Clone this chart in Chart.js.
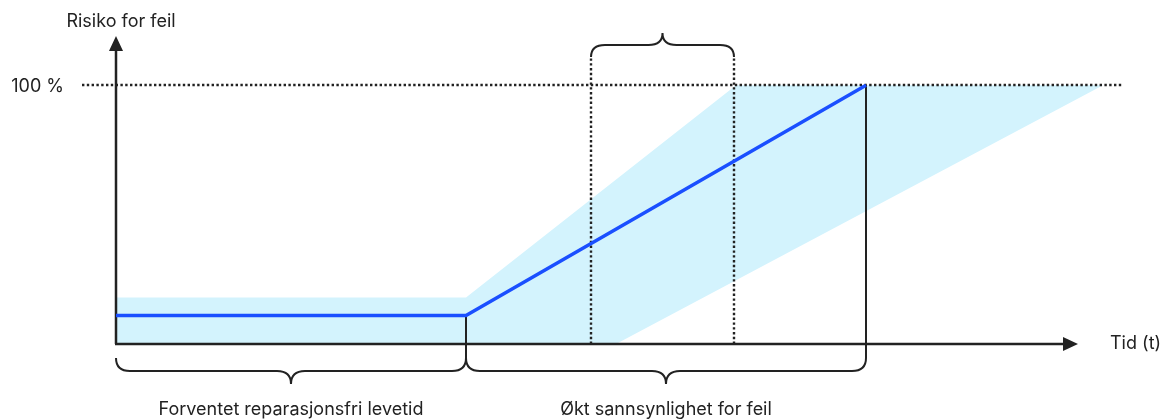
<!DOCTYPE html>
<html>
<head>
<meta charset="utf-8">
<script src="https://cdn.jsdelivr.net/npm/chart.js@4.4.1/dist/chart.umd.min.js"></script>
<style>
  html, body { margin: 0; padding: 0; background: #fff; }
  canvas { display: block; }
</style>
</head>
<body>
<canvas id="chart" width="1165" height="420"></canvas>
<script>
// risk curve: time -> risk (%)
var riskTime = [0, 35, 75];
var riskValue = [11, 11, 100];

// outline of the light blue uncertainty band
var bandTime = [0, 0, 35, 62, 98.7, 50];
var bandValue = [0, 18, 18, 100, 100, 0];

var refLevel = 100;
var refLabel = '100 %';

var phaseBounds = [0, 35, 75];
var phaseLabels = ['Forventet reparasjonsfri levetid', 'Økt sannsynlighet for feil'];
var windowBounds = [47.5, 61.8];

var yTitle = 'Risiko for feil';
var xTitle = 'Tid (t)';

var ink = '#222222';
var font = '18px Inter, "Noto Sans", sans-serif';

function toPoints(xs, ys) {
    return xs.map(function (x, i) { return {x: x, y: ys[i]}; });
}

function brace(ctx, x1, x2, yEnd, dir, h, r) {
    var yMid = yEnd + dir * h, yTip = yEnd + dir * h * 2, xm = (x1 + x2) / 2;
    ctx.beginPath();
    ctx.moveTo(x1, yEnd);
    ctx.quadraticCurveTo(x1, yMid, x1 + r, yMid);
    ctx.lineTo(xm - r, yMid);
    ctx.quadraticCurveTo(xm, yMid, xm, yTip);
    ctx.quadraticCurveTo(xm, yMid, xm + r, yMid);
    ctx.lineTo(x2 - r, yMid);
    ctx.quadraticCurveTo(x2, yMid, x2, yEnd);
    ctx.stroke();
}

var diagram = {
    id: 'diagram',
    beforeDatasetsDraw: function (chart) {
        var ctx = chart.ctx, xs = chart.scales.x, ys = chart.scales.y, a = chart.chartArea;
        var x0 = xs.getPixelForValue(0), y0 = ys.getPixelForValue(0);
        var yr = Math.round(ys.getPixelForValue(refLevel));
        var braceY = y0 + 14;
        ctx.save();
        ctx.strokeStyle = ink;
        ctx.lineWidth = 2.4;
        ctx.setLineDash([2.4, 2.4]);
        ctx.beginPath();
        ctx.moveTo(a.left - 34, yr);
        ctx.lineTo(a.right + 6, yr);
        ctx.stroke();
        windowBounds.forEach(function (t) {
            var px = Math.round(xs.getPixelForValue(t));
            ctx.beginPath();
            ctx.moveTo(px, y0);
            ctx.lineTo(px, a.top + 21);
            ctx.stroke();
        });
        ctx.setLineDash([]);

        // solid phase boundaries
        ctx.lineWidth = 2;
        phaseBounds.slice(1).forEach(function (t) {
            var px = Math.round(xs.getPixelForValue(t));
            var v = riskValue[riskTime.indexOf(t)];
            ctx.beginPath();
            ctx.moveTo(px, ys.getPixelForValue(v));
            ctx.lineTo(px, braceY);
            ctx.stroke();
        });

        // axes with arrows
        ctx.lineWidth = 2.5;
        ctx.fillStyle = ink;
        var tipX = a.right - 38, tipY = a.top;
        ctx.beginPath();
        ctx.moveTo(x0, y0);
        ctx.lineTo(x0, tipY + 12);
        ctx.moveTo(x0 - 1, y0);
        ctx.lineTo(tipX - 12, y0);
        ctx.stroke();
        ctx.beginPath();
        ctx.moveTo(x0, tipY);
        ctx.lineTo(x0 + 7, tipY + 15);
        ctx.lineTo(x0 - 7, tipY + 15);
        ctx.closePath();
        ctx.fill();
        ctx.beginPath();
        ctx.moveTo(tipX, y0);
        ctx.lineTo(tipX - 15, y0 + 7);
        ctx.lineTo(tipX - 15, y0 - 7);
        ctx.closePath();
        ctx.fill();
        ctx.restore();
    },
    afterDatasetsDraw: function (chart) {
        var ctx = chart.ctx, xs = chart.scales.x, ys = chart.scales.y, a = chart.chartArea;
        var x0 = xs.getPixelForValue(0), y0 = ys.getPixelForValue(0);
        var yr = ys.getPixelForValue(refLevel);
        ctx.save();
        ctx.strokeStyle = ink;
        ctx.lineWidth = 2;
        // braces under the phases
        for (var i = 0; i < phaseLabels.length; i++) {
            var p1 = Math.round(xs.getPixelForValue(phaseBounds[i]));
            var p2 = Math.round(xs.getPixelForValue(phaseBounds[i + 1]));
            brace(ctx, p1, p2, y0 + 14, 1, 13, 14);
        }
        // brace over the window
        brace(ctx, Math.round(xs.getPixelForValue(windowBounds[0])),
            Math.round(xs.getPixelForValue(windowBounds[1])), a.top + 21, -1, 12, 14);

        ctx.fillStyle = ink;
        ctx.font = font;
        ctx.textBaseline = 'middle';
        ctx.textAlign = 'center';
        ctx.fillText(yTitle, x0 + 5, 22);
        for (var j = 0; j < phaseLabels.length; j++) {
            var m = (xs.getPixelForValue(phaseBounds[j]) + xs.getPixelForValue(phaseBounds[j + 1])) / 2;
            ctx.fillText(phaseLabels[j], m, 410);
        }
        ctx.textAlign = 'right';
        ctx.fillText(refLabel, a.left - 52, yr + 1);
        ctx.textAlign = 'left';
        ctx.fillText(xTitle, a.right - 6, y0);
        ctx.restore();
    }
};

new Chart('chart', {
    type: 'line',
    data: {
        datasets: [{
            data: toPoints(riskTime, riskValue),
            borderColor: '#1a4fff',
            borderWidth: 3.5,
            pointRadius: 0,
            fill: false
        }, {
            data: toPoints(bandTime, bandValue),
            borderWidth: 0,
            backgroundColor: '#d3f3fd',
            pointRadius: 0,
            fill: 'shape'
        }]
    },
    options: {
        responsive: false,
        animation: false,
        layout: {
            padding: {left: 116, right: 49, top: 36, bottom: 76}
        },
        scales: {
            x: {type: 'linear', min: 0, max: 100, display: false},
            y: {type: 'linear', min: 0, max: 119, display: false}
        },
        plugins: {
            legend: {display: false},
            tooltip: {enabled: false},
            filler: {drawTime: 'beforeDatasetsDraw', propagate: false}
        }
    },
    plugins: [diagram]
});
</script>
</body>
</html>
